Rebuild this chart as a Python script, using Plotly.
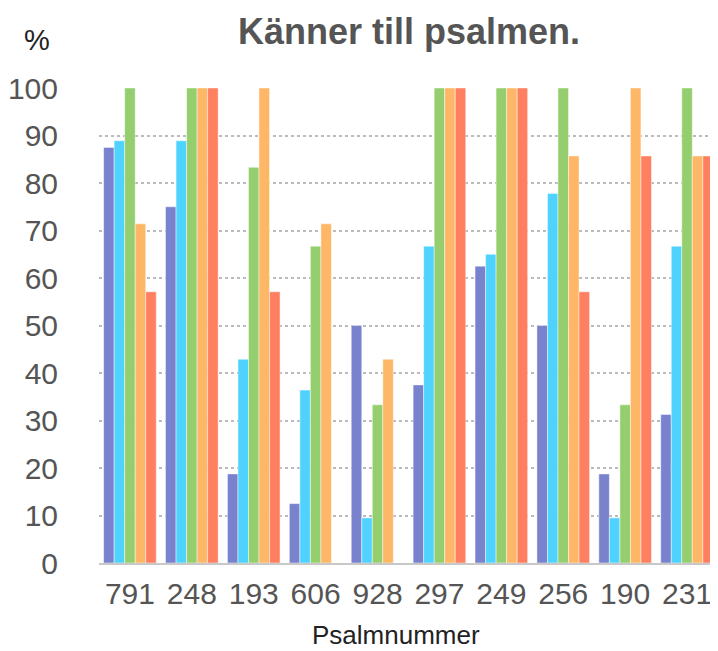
import plotly.graph_objects as go

categories = ["791", "248", "193", "606", "928", "297", "249", "256", "190", "231"]
series_a = [87.5, 75, 18.75, 12.5, 50, 37.5, 62.5, 50, 18.75, 31.25]
series_b = [88.9, 88.9, 42.9, 36.4, 9.5, 66.7, 65, 77.8, 9.5, 66.7]
series_c = [100, 100, 83.3, 66.7, 33.3, 100, 100, 100, 33.3, 100]
series_d = [71.4, 100, 100, 71.4, 42.9, 100, 100, 85.7, 100, 85.7]
series_e = [57.1, 100, 57.1, 0, 0, 100, 100, 57.1, 85.7, 85.7]
series_names = ["A", "B", "C", "D", "E"]
colors = ["#7882cd", "#50d2fe", "#94ce6e", "#feb766", "#fe8060"]
y_ticks = [0, 10, 20, 30, 40, 50, 60, 70, 80, 90, 100]

# page has an 8px body margin; compensate
W, H = 710, 643
L, T = 89, 80
PW, PH = 621, 475

fig = go.Figure()
for name, vals, col in zip(series_names, [series_a, series_b, series_c, series_d, series_e], colors):
    fig.add_trace(go.Bar(
        x=categories, y=vals, name=name,
        marker=dict(color=col, line=dict(color="rgba(255,255,255,0.45)", width=1)),
    ))

fig.update_layout(
    width=W, height=H,
    margin=dict(l=L, r=W - L - PW, t=T, b=H - T - PH, pad=0),
    paper_bgcolor="white", plot_bgcolor="white",
    barmode="group", bargap=0.15, bargroupgap=0,
    showlegend=False,
    font=dict(family="Liberation Sans, Arial, sans-serif", color="#555555"),
    title=dict(text="<b>Känner till psalmen.</b>", x=(408 - 97) / PW, xref="paper", xanchor="center",
               y=1 - 23 / H, yref="container", yanchor="middle",
               font=dict(size=36, color="#555555")),
    annotations=[
        dict(text="%", xref="paper", yref="paper", x=(35 - 97) / PW, y=(563 - 40) / PH,
             xanchor="center", yanchor="middle", showarrow=False,
             font=dict(size=29, color="#222222")),
        dict(text="Psalmnummer", xref="paper", yref="paper", x=(395 - 97) / PW, y=(563 - 635) / PH,
             xanchor="center", yanchor="middle", showarrow=False,
             font=dict(size=26, color="#222222")),
    ],
)
fig.update_xaxes(
    showgrid=False, showline=True, linecolor="#c8c8c8", linewidth=2,
    tickfont=dict(size=30, color="#555555"), ticks="outside", ticklen=3, tickcolor="rgba(0,0,0,0)",
)
fig.update_yaxes(
    range=[0, 100], tickvals=y_ticks, showgrid=True, gridcolor="#bbbbbb", griddash="dot", gridwidth=1.5,
    zeroline=False, tickfont=dict(size=30, color="#555555"), ticks="outside", ticklen=34,
    tickcolor="rgba(0,0,0,0)",
)
fig.write_html("out.html")
